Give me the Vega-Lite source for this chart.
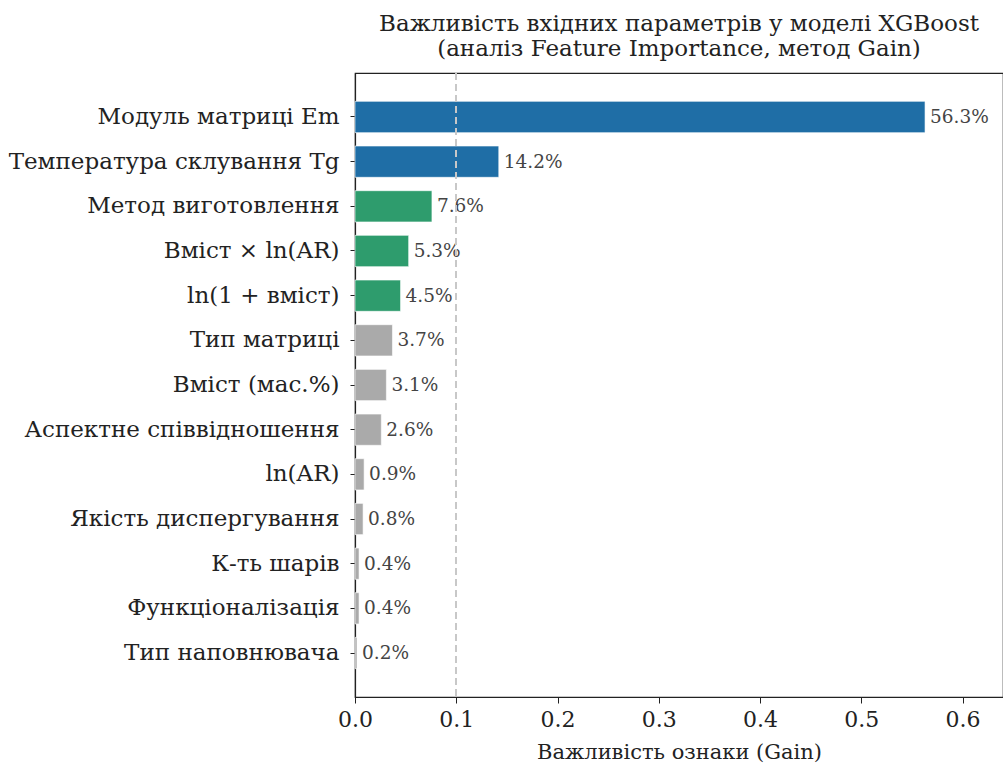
{
  "$schema": "https://vega.github.io/schema/vega-lite/v6.json",
  "width": 648,
  "height": 624,
  "autosize": {"type": "none"},
  "padding": {"left": 355, "top": 73, "right": 0, "bottom": 68},
  "background": "white",
  "config": {
    "font": "DejaVu Serif",
    "view": {"stroke": "#222222", "strokeWidth": 1.2},
    "axis": {"grid": false, "domainColor": "#222222", "tickColor": "#222222", "labelColor": "#222222", "titleColor": "#222222", "labelFont": "DejaVu Serif", "titleFont": "DejaVu Serif", "titleFontWeight": "normal"}
  },
  "title": {
    "text": ["Важливість вхідних параметрів у моделі XGBoost", "(аналіз Feature Importance, метод Gain)"],
    "font": "DejaVu Serif",
    "fontSize": 23,
    "fontWeight": "normal",
    "lineHeight": 25,
    "color": "#222222",
    "anchor": "middle",
    "offset": 11
  },
  "data": {
    "values": [
      {"feature": "Модуль матриці Em", "gain": 0.563, "group": "top"},
      {"feature": "Температура склування Tg", "gain": 0.142, "group": "top"},
      {"feature": "Метод виготовлення", "gain": 0.076, "group": "mid"},
      {"feature": "Вміст × ln(AR)", "gain": 0.053, "group": "mid"},
      {"feature": "ln(1 + вміст)", "gain": 0.045, "group": "mid"},
      {"feature": "Тип матриці", "gain": 0.037, "group": "low"},
      {"feature": "Вміст (мас.%)", "gain": 0.031, "group": "low"},
      {"feature": "Аспектне співвідношення", "gain": 0.026, "group": "low"},
      {"feature": "ln(AR)", "gain": 0.009, "group": "low"},
      {"feature": "Якість диспергування", "gain": 0.008, "group": "low"},
      {"feature": "К-ть шарів", "gain": 0.004, "group": "low"},
      {"feature": "Функціоналізація", "gain": 0.004, "group": "low"},
      {"feature": "Тип наповнювача", "gain": 0.002, "group": "low"}
    ]
  },
  "encoding": {
    "y": {
      "field": "feature",
      "type": "nominal",
      "sort": null,
      "scale": {"paddingInner": 0.3, "paddingOuter": 0.635},
      "axis": {"title": null, "labelFontSize": 23, "labelPadding": 11, "tickSize": 5, "domainWidth": 1.2, "labelLimit": 400}
    }
  },
  "layer": [
    {
      "mark": {"type": "bar", "stroke": "white", "strokeWidth": 0.6},
      "encoding": {
        "x": {
          "field": "gain",
          "type": "quantitative",
          "scale": {"domain": [0, 0.64], "nice": false},
          "axis": {"title": "Важливість ознаки (Gain)", "titleFontSize": 21, "titlePadding": 11, "labelFontSize": 22, "labelPadding": 6, "labelFlush": false, "tickSize": 6, "values": [0, 0.1, 0.2, 0.3, 0.4, 0.5, 0.6], "format": ".1f", "domainWidth": 1.2}
        },
        "color": {
          "field": "group",
          "type": "nominal",
          "scale": {"domain": ["top", "mid", "low"], "range": ["#1f6ea6", "#2e9c6d", "#aaaaaa"]},
          "legend": null
        }
      }
    },
    {
      "mark": {"type": "text", "align": "left", "baseline": "middle", "dx": 5, "fontSize": 18.5, "color": "#444444", "font": "DejaVu Serif"},
      "encoding": {
        "x": {"field": "gain", "type": "quantitative"},
        "text": {"field": "gain", "type": "quantitative", "format": ".1%"}
      }
    },
    {
      "mark": {"type": "rule", "color": "#c8c8c8", "strokeDash": [7, 4], "strokeWidth": 1.4},
      "encoding": {"x": {"datum": 0.1}, "y": null}
    }
  ]
}
